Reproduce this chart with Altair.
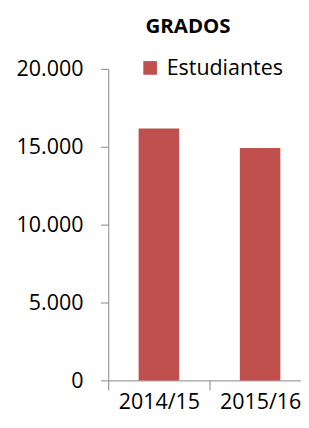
import altair as alt
import pandas as pd

years = ["2014/15", "2015/16"]
estudiantes = [16170, 14920]
series = ["Estudiantes", "Estudiantes"]

df = pd.DataFrame({"curso": years, "valor": estudiantes, "serie": series})

FONT = "Open Sans"
AXIS_COL = "#868686"

chart = alt.Chart(df).mark_bar(color="#C0504D").encode(
    x=alt.X("curso:N", sort=years,
            scale=alt.Scale(paddingInner=0.6, paddingOuter=0.252, align=0.595),
            axis=alt.Axis(title=None, labelAngle=0,
                          tickOffset=-52, labelOffset=52,
                          tickSize=10, labelPadding=2, labelFontSize=22,
                          labelFont=FONT, labelColor="#000000",
                          domainColor=AXIS_COL, tickColor=AXIS_COL,
                          grid=False, labelOverlap=False, labelBound=False)),
    y=alt.Y("valor:Q", scale=alt.Scale(domain=[0, 20000], nice=False),
            axis=alt.Axis(title=None, values=[0, 5000, 10000, 15000, 20000],
                          labelExpr="replace(format(datum.value, ','), ',', '.')",
                          tickSize=8, labelPadding=18, labelFontSize=22,
                          labelFont=FONT, labelColor="#000000",
                          domainColor=AXIS_COL, tickColor=AXIS_COL,
                          grid=False)),
    color=alt.Color("serie:N",
                    scale=alt.Scale(domain=["Estudiantes"], range=["#C0504D"]),
                    legend=alt.Legend(title=None, orient="none", legendX=32, legendY=-12,
                                      symbolType="square", symbolSize=196,
                                      symbolStrokeWidth=0, labelFont=FONT,
                                      labelFontSize=22, labelColor="#000000",
                                      labelOffset=6)),
).properties(
    width=198,
    height=320,
    title=alt.TitleParams("GRADOS", font=FONT, fontSize=21, fontWeight="bold",
                          color="#000000", anchor="middle", dx=-17, offset=21),
    autosize=alt.AutoSizeParams(type="none"),
    padding={"left": 103, "top": 57, "right": 0, "bottom": 30},
).configure_view(stroke=None)

chart.save("out.html", embed_options={"renderer": "svg", "actions": False})
